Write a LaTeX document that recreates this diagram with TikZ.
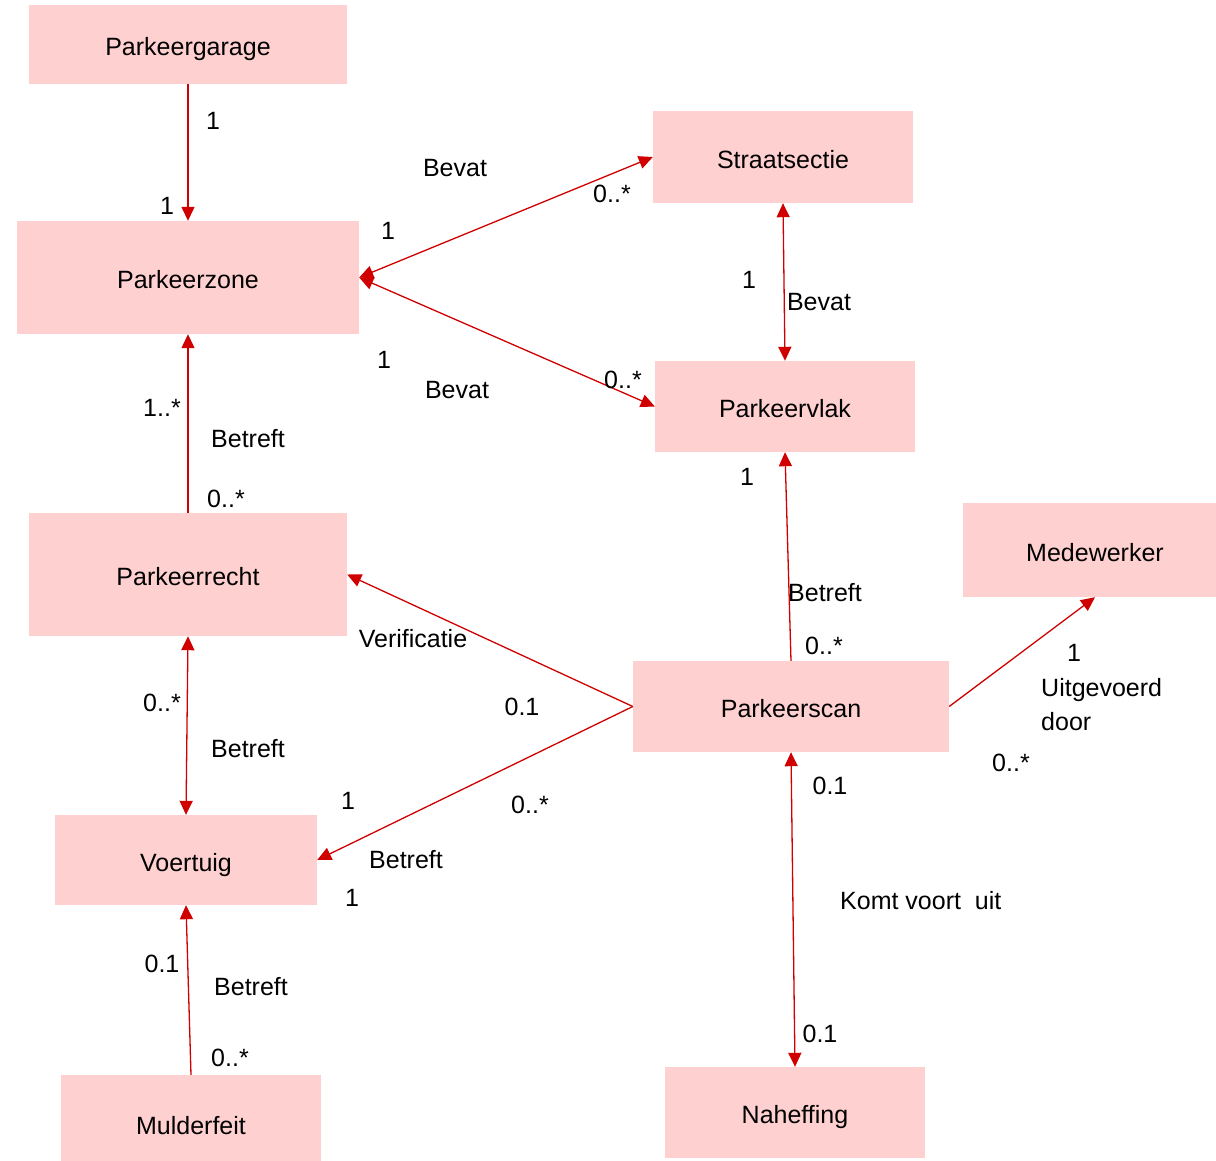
\documentclass[tikz,border=0pt]{standalone}
\usepackage{fontspec}
\setmainfont{Liberation Sans}
\usetikzlibrary{arrows.meta}
\definecolor{boxpink}{HTML}{FFD0D0}
\definecolor{linkred}{HTML}{D00000}
\begin{document}
\begin{tikzpicture}[x=1pt,y=-1pt,
  klasse/.style={fill=boxpink,inner sep=0pt,text height=22pt,text depth=0pt,font=\fontsize{25}{30}\selectfont},
  lbl/.style={inner sep=0pt,font=\fontsize{25}{30}\selectfont},
  assoc/.style={draw=linkred,line width=1.3pt},
  tip/.style={-{Triangle[length=14pt,width=13pt]}},
  tips/.style={{Triangle[length=14pt,width=13pt]}-{Triangle[length=14pt,width=13pt]}}]
\useasboundingbox (0,0) rectangle (1216,1160);
\fill[white] (0,0) rectangle (1216,1160);

% classes
\node[klasse,minimum width=318pt,minimum height=79pt] (garage) at (188,44.5) {Parkeergarage};
\node[klasse,minimum width=260pt,minimum height=92pt] (sectie) at (783,157) {Straatsectie};
\node[klasse,minimum width=342pt,minimum height=113pt] (zone) at (188,277.5) {Parkeerzone};
\node[klasse,minimum width=260pt,minimum height=91pt] (vlak) at (785,406.5) {Parkeervlak};
\node[klasse,minimum width=264pt,minimum height=94pt] (mw) at (1095,550) {Medewerker};
\node[klasse,minimum width=318pt,minimum height=123pt] (recht) at (188,574.5) {Parkeerrecht};
\node[klasse,minimum width=316pt,minimum height=91pt] (scan) at (791,706.5) {Parkeerscan};
\node[klasse,minimum width=262pt,minimum height=90pt] (voertuig) at (186,860) {Voertuig};
\node[klasse,minimum width=260pt,minimum height=97pt] (mulder) at (191,1123.5) {Mulderfeit};
\node[klasse,minimum width=260pt,minimum height=91pt] (naheffing) at (795,1112.5) {Naheffing};

% associations
\draw[assoc,tip] (garage.south) -- (zone.north);
\draw[assoc,tips] (zone.east) -- (sectie.west);
\draw[assoc,tips] (zone.east) -- (vlak.west);
\draw[assoc,tips] (sectie.south) -- (vlak.north);
\draw[assoc,tip] (recht.north) -- (zone.south);
\draw[assoc,tips] (recht.south) -- (voertuig.north);
\draw[assoc,tip] (scan.west) -- (recht.east);
\draw[assoc,tip] (scan.west) -- (voertuig.east);
\draw[assoc,tip] (scan.north) -- (vlak.south);
\draw[assoc,tip] (scan.east) -- (mw.south);
\draw[assoc,tips] (scan.south) -- (naheffing.north);
\draw[assoc,tip] (mulder.north) -- (voertuig.south);

% names and multiplicities
\node[lbl] (m1) at (213,121) {1};
\node[lbl] (m2) at (167,206) {1};
\node[lbl] (n1) at (455,168) {Bevat};
\node[lbl] (m3) at (612,194) {0..*};
\node[lbl] (m4) at (388,231) {1};
\node[lbl] (m5) at (749,280) {1};
\node[lbl] (n2) at (819,302) {Bevat};
\node[lbl] (m6) at (384,360) {1};
\node[lbl] (n3) at (457,390) {Bevat};
\node[lbl] (m7) at (623,380) {0..*};
\node[lbl] (m8) at (162,408) {1..*};
\node[lbl] (n4) at (248,439) {Betreft};
\node[lbl] (m9) at (226,499) {0..*};
\node[lbl] (m10) at (747,477) {1};
\node[lbl] (n5) at (825,593) {Betreft};
\node[lbl] (n6) at (413,639) {Verificatie};
\node[lbl] (m11) at (824,646) {0..*};
\node[lbl] (m12) at (1074,653) {1};
\node[lbl,anchor=west] (n7) at (1041,690) {Uitgevoerd};
\node[lbl,anchor=west] (n7b) at (1041,722) {door};
\node[lbl] (m13) at (162,703) {0..*};
\node[lbl] (m14) at (522,707) {0.1};
\node[lbl] (n8) at (248,749) {Betreft};
\node[lbl] (m15) at (1011,763) {0..*};
\node[lbl] (m16) at (830,786) {0.1};
\node[lbl] (m17) at (348,801) {1};
\node[lbl] (m18) at (530,805) {0..*};
\node[lbl] (n9) at (406,860) {Betreft};
\node[lbl] (m19) at (352,898) {1};
\node[lbl,anchor=west] (n10) at (840,901) {Komt voort\ \ uit};
\node[lbl] (m20) at (162,964) {0.1};
\node[lbl] (n11) at (251,987) {Betreft};
\node[lbl] (m21) at (820,1034) {0.1};
\node[lbl] (m22) at (230,1058) {0..*};
\end{tikzpicture}
\end{document}
